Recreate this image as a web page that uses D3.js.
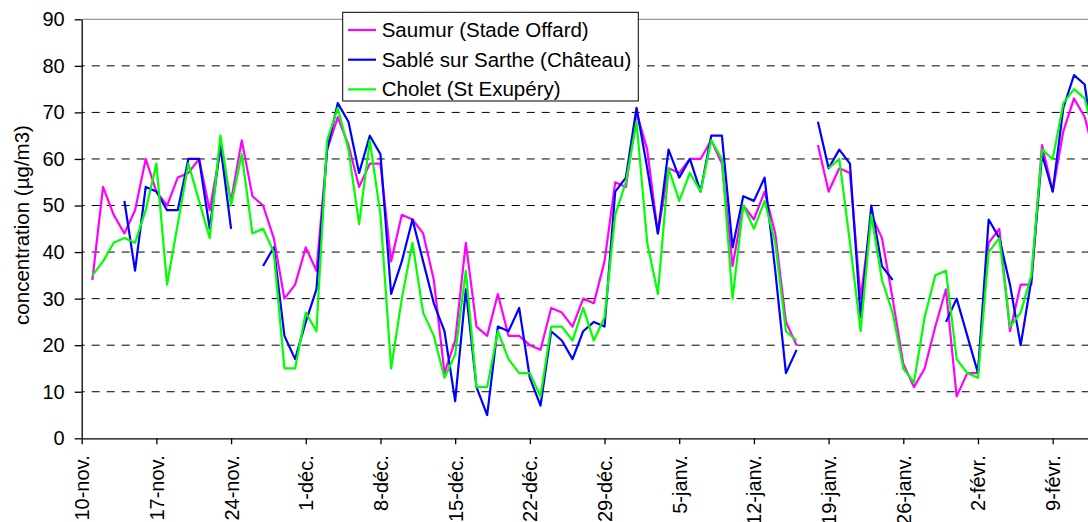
<!DOCTYPE html>
<html>
<head>
<meta charset="utf-8">
<script src="https://cdn.jsdelivr.net/npm/d3@7"></script>
<style>
  body { margin: 0; background: #fff; }
  svg { display: block; font-family: "Liberation Sans", Arial, sans-serif; }
</style>
</head>
<body>
<script>
// day 0 = 10-nov., values start on day 1 (11-nov.)
const tickLabels = ["10-nov.", "17-nov.", "24-nov.", "1-déc.", "8-déc.", "15-déc.", "22-déc.",
  "29-déc.", "5-janv.", "12-janv.", "19-janv.", "26-janv.", "2-févr.", "9-févr."];
const tickDays = [0, 7, 14, 21, 28, 35, 42, 49, 56, 63, 70, 77, 84, 91];
const yTicks = [0, 10, 20, 30, 40, 50, 60, 70, 80, 90];

const saumur = [
  34, 54, 48, 44, 49, 60, 53, 50, 56, 57,
  60, 49, 62, 51, 64, 52, 50, 43, 30, 33,
  41, 36, 62, 69, 63, 54, 59, 59, 38, 48,
  47, 44, 34, 14, 21, 42, 24, 22, 31, 22,
  22, 20, 19, 28, 27, 24, 30, 29, 38, 55,
  54, 70, 62, 44, 58, 57, 60, 60, 64, 59,
  37, 50, 47, 53, 44, 25, 20, null, 63, 53,
  58, 57, 30, 48, 43, 30, 16, 11, 15, 24,
  32, 9, 14, 14, 42, 45, 23, 33, 33, 63,
  53, 66, 73, 69, 60
];
const sable = [
  null, null, null, 51, 36, 54, 53, 49, 49, 60,
  60, 45, 63, 45, null, null, 37, 41, 22, 17,
  25, 32, 62, 72, 68, 57, 65, 61, 31, 38,
  47, 38, 29, 23, 8, 32, 11, 5, 24, 23,
  28, 13, 7, 23, 21, 17, 23, 25, 24, 53,
  56, 71, 58, 44, 62, 56, 60, 53, 65, 65,
  41, 52, 51, 56, 36, 14, 19, null, 68, 58,
  62, 59, 26, 50, 37, 34, null, null, null, null,
  25, 30, 22, 14, 47, 43, 33, 20, 34, 61,
  53, 71, 78, 76, 60
];
const cholet = [
  35, 38, 42, 43, 42, 49, 59, 33, 46, 59,
  51, 43, 65, 50, 61, 44, 45, 40, 15, 15,
  27, 23, 64, 71, 62, 46, 64, 48, 15, 30,
  42, 27, 22, 13, 18, 36, 11, 11, 23, 17,
  14, 14, 9, 24, 24, 21, 28, 21, 26, 48,
  55, 68, 42, 31, 58, 51, 57, 53, 64, 60,
  30, 50, 45, 51, 42, 23, 21, null, null, 58,
  60, 42, 23, 48, 34, 27, 15, 12, 26, 35,
  36, 17, 14, 13, 40, 43, 24, 27, 35, 62,
  60, 72, 75, 73, 64
];

const seriesNames = ["Saumur (Stade Offard)", "Sablé sur Sarthe (Château)", "Cholet (St Exupéry)"];
const seriesColors = ["#ff00ff", "#0000ff", "#00ff00"];
const series = [saumur, sable, cholet];

const width = 1088, height = 522;
const plotLeft = 81.7, plotBottom = 438.3, plotTop = 19.3;

const x = d3.scaleLinear().domain([0, 94.31]).range([plotLeft, width]);
const y = d3.scaleLinear().domain([0, 90]).range([plotBottom, plotTop]);

const svg = d3.select("body").append("svg")
  .attr("width", width)
  .attr("height", height);

svg.append("rect")
  .attr("width", width)
  .attr("height", height)
  .attr("fill", "#fff");

// gridlines
svg.append("g")
  .selectAll("line")
  .data(yTicks.filter(v => v > 0))
  .join("line")
  .attr("x1", plotLeft)
  .attr("x2", width)
  .attr("y1", d => y(d))
  .attr("y2", d => y(d))
  .attr("stroke", d => d === 90 ? "#808080" : "#000")
  .attr("stroke-width", 1)
  .attr("stroke-dasharray", d => d === 90 ? null : "8,7")
  .attr("stroke-dashoffset", 5);

// axes
const yAxis = svg.append("g")
  .attr("transform", `translate(${plotLeft},0)`)
  .call(d3.axisLeft(y).tickValues(yTicks).tickSize(7).tickSizeOuter(0).tickPadding(10));

yAxis.selectAll("text")
  .attr("font-size", 20)
  .attr("font-family", "Liberation Sans, Arial, sans-serif")
  .attr("fill", "#000");

const xAxis = svg.append("g")
  .attr("transform", `translate(0,${plotBottom})`)
  .call(d3.axisBottom(x)
    .tickValues(tickDays)
    .tickFormat((d, i) => tickLabels[i])
    .tickSize(6)
    .tickSizeOuter(0));

xAxis.selectAll("text")
  .attr("transform", "rotate(-90)")
  .attr("text-anchor", "end")
  .attr("x", -17)
  .attr("y", 0)
  .attr("dy", "0.35em")
  .attr("font-size", 20)
  .attr("font-family", "Liberation Sans, Arial, sans-serif")
  .attr("fill", "#000");

svg.selectAll(".domain, .tick line")
  .attr("stroke", "#000")
  .attr("stroke-width", 1.3);

svg.append("text")
  .attr("transform", "translate(29,225) rotate(-90)")
  .attr("text-anchor", "middle")
  .attr("font-size", 20.5)
  .attr("fill", "#000")
  .text("concentration (µg/m3)");

// lines
const line = d3.line()
  .defined(d => d != null)
  .x((d, i) => x(i + 1))
  .y(d => y(d));

svg.append("g")
  .selectAll("path")
  .data(series)
  .join("path")
  .attr("d", d => line(d))
  .attr("fill", "none")
  .attr("stroke", (d, i) => seriesColors[i])
  .attr("stroke-width", 2.2)
  .attr("stroke-linejoin", "round");

// legend
const legend = svg.append("g");

legend.append("rect")
  .attr("x", 342.7)
  .attr("y", 12.3)
  .attr("width", 295.6)
  .attr("height", 88.7)
  .attr("fill", "#fff")
  .attr("stroke", "#000")
  .attr("stroke-width", 1);

const item = legend.selectAll("g.item")
  .data(seriesNames)
  .join("g")
  .attr("class", "item")
  .attr("transform", (d, i) => `translate(348,${30 + i * 29.7})`);

item.append("line")
  .attr("x1", 0)
  .attr("x2", 28)
  .attr("stroke", (d, i) => seriesColors[i])
  .attr("stroke-width", 2.2);

item.append("text")
  .attr("x", 33.7)
  .attr("y", 7)
  .attr("font-size", 20.5)
  .attr("fill", "#000")
  .text(d => d);
</script>
</body>
</html>
